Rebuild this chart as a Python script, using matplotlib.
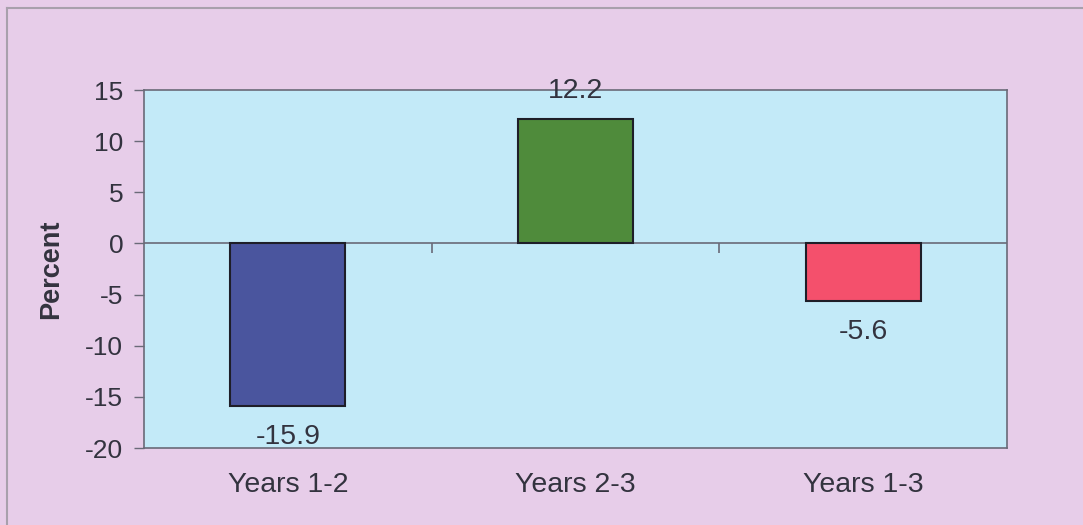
"""Bar chart of percent change across year intervals."""

import matplotlib
matplotlib.use("Agg")
import matplotlib.pyplot as plt
from matplotlib.lines import Line2D

categories = ["Years 1-2", "Years 2-3", "Years 1-3"]
values = [-15.9, 12.2, -5.6]
value_labels = ["-15.9", "12.2", "-5.6"]
bar_colors = ["#4A559E", "#4F8B3B", "#F4506C"]
y_ticks = [15, 10, 5, 0, -5, -10, -15, -20]

TEXT_COLOR = "#33333F"
FRAME_COLOR = "#6A6A78"

plt.rcParams["font.family"] = ["Liberation Sans", "DejaVu Sans"]
plt.rcParams["axes.unicode_minus"] = False

figure = plt.figure(figsize=(10.83, 5.25), dpi=100, facecolor="#E7CDE9")
axes = figure.add_axes([144 / 1083, 77 / 525, 863 / 1083, 358 / 525])
axes.set_facecolor("#C3EAF8")

positions = list(range(len(categories)))
bars = axes.bar(positions, values, width=0.4, color=bar_colors,
                edgecolor="#1E1E28", linewidth=1.5, zorder=3)
axes.axhline(0, color=FRAME_COLOR, linewidth=1.2, zorder=2)

axes.set_xlim(-0.5, len(categories) - 0.5)
axes.set_ylim(-20, 15)
axes.set_yticks(y_ticks)
axes.tick_params(axis="y", labelsize=19, colors=FRAME_COLOR, labelcolor=TEXT_COLOR,
                 length=7, width=1, pad=8)
axes.set_xticks(positions)
axes.set_xticklabels(categories)
axes.tick_params(axis="x", length=0, labelsize=20.5, labelcolor=TEXT_COLOR, pad=17)

# category separator ticks sitting on the zero line
zero_axis = axes.secondary_xaxis(20 / 35)
zero_axis.set_xticks([p + 0.5 for p in positions[:-1]])
zero_axis.tick_params(axis="x", direction="out", length=7, width=1.2,
                      colors=FRAME_COLOR, labelbottom=False, labeltop=False,
                      top=False, bottom=True)
zero_axis.spines["bottom"].set_visible(False)
zero_axis.spines["top"].set_visible(False)

for spine in axes.spines.values():
    spine.set_color(FRAME_COLOR)
    spine.set_linewidth(1.2)

for bar, value, label in zip(bars, values, value_labels):
    offset = 15 if value > 0 else -18
    axes.annotate(label, (bar.get_x() + bar.get_width() / 2, value),
                  xytext=(0, offset), textcoords="offset pixels",
                  ha="center", va="bottom" if value > 0 else "top",
                  fontsize=20.5, color=TEXT_COLOR, zorder=4)

axes.set_ylabel("Percent", fontsize=19.5, fontweight="bold", color=TEXT_COLOR)
axes.yaxis.set_label_coords(-80 / 863, 0.5)

# outer chart border (left and top edges visible in the source)
figure.add_artist(Line2D([7 / 1083, 7 / 1083], [0, 1 - 8 / 525],
                         transform=figure.transFigure, color="#A8A0AC", linewidth=1.5))
figure.add_artist(Line2D([7 / 1083, 1], [1 - 8 / 525, 1 - 8 / 525],
                         transform=figure.transFigure, color="#A8A0AC", linewidth=1.5))

figure.savefig("out.png", dpi=100, facecolor=figure.get_facecolor())
